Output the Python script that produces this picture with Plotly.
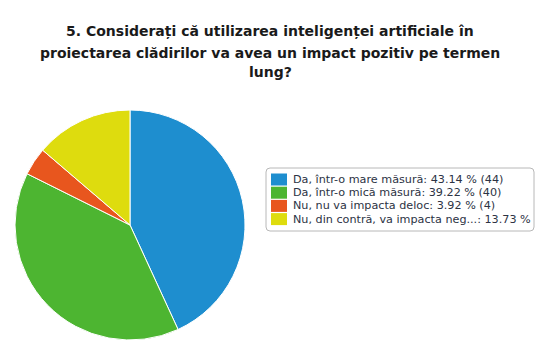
import plotly.graph_objects as go

title_lines = ["5. Considerați că utilizarea inteligenței artificiale în",
               "proiectarea clădirilor va avea un impact pozitiv pe termen",
               "lung?"]
labels = ["Da, într-o mare măsură", "Da, într-o mică măsură", "Nu, nu va impacta deloc", "Nu, din contră, va impacta neg..."]
counts = [44, 40, 4, 14]
percents = [43.14, 39.22, 3.92, 13.73]
show_count = [True, True, True, False]
colors = ["#1e8ecf", "#4db531", "#e8561e", "#dedc0e"]

W, H = 550, 356

fig = go.Figure()
fig.add_trace(go.Pie(
    labels=labels, values=counts, sort=False, direction="clockwise", rotation=0,
    marker=dict(colors=colors, line=dict(color="white", width=1)),
    textinfo="none", hoverinfo="skip", showlegend=False,
    domain=dict(x=[15 / W, 245 / W], y=[1 - 340 / H, 1 - 110 / H]),
))

def px(x):
    return x / W
def py(y):
    return 1 - y / H

shapes = []
annotations = []
title_centers = [31.5, 53.0, 72.5]
for line, yc in zip(title_lines, title_centers):
    annotations.append(dict(text=f"<b>{line}</b>", xref="paper", yref="paper", x=px(270), y=py(yc),
                            xanchor="center", yanchor="middle", showarrow=False,
                            font=dict(family="DejaVu Sans", size=14, color="#1a1a1a")))

# legend box (rounded)
x0, x1, y0, y1, r = 266, 534, 168, 231, 4
path = (f"M {px(x0 + r)},{py(y0)} L {px(x1 - r)},{py(y0)} Q {px(x1)},{py(y0)} {px(x1)},{py(y0 + r)} "
        f"L {px(x1)},{py(y1 - r)} Q {px(x1)},{py(y1)} {px(x1 - r)},{py(y1)} "
        f"L {px(x0 + r)},{py(y1)} Q {px(x0)},{py(y1)} {px(x0)},{py(y1 - r)} "
        f"L {px(x0)},{py(y0 + r)} Q {px(x0)},{py(y0)} {px(x0 + r)},{py(y0)} Z")
shapes.append(dict(type="path", xref="paper", yref="paper", path=path,
                   line=dict(color="#b8b8b8", width=1), fillcolor="white"))
row0, step = 179.5, 13.2
for i, (lab, c, p, s) in enumerate(zip(labels, colors, percents, show_count)):
    yc = row0 + i * step
    shapes.append(dict(type="rect", xref="paper", yref="paper",
                       x0=px(271), x1=px(287), y0=py(yc + 6), y1=py(yc - 6),
                       fillcolor=c, line=dict(width=0)))
    txt = f"{lab}: {p:.2f} %" + (f" ({counts[i]})" if s else "")
    annotations.append(dict(text=txt, xref="paper", yref="paper", x=px(291), y=py(yc),
                            xanchor="left", yanchor="middle", showarrow=False,
                            font=dict(family="DejaVu Sans", size=11.2, color="#2c3344")))

fig.update_layout(
    width=W, height=H, margin=dict(l=0, r=0, t=0, b=0),
    paper_bgcolor="white", plot_bgcolor="white",
    shapes=shapes, annotations=annotations,
)
fig.write_html("out.html")
